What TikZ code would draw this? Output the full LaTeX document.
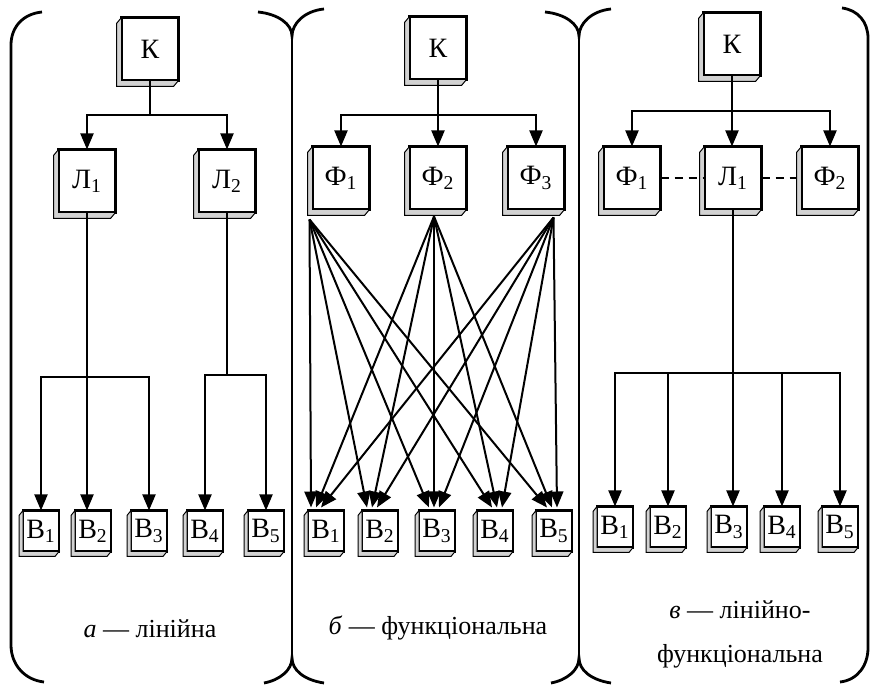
\documentclass[tikz,border=0pt]{standalone}
\usepackage{fontspec}
\setmainfont{Liberation Serif}
\usetikzlibrary{arrows.meta,calc}

% bevelled side of a block
\newcommand{\bev}[2][-5,6]{\filldraw[bevel] (#2.north west) -- ++(#1) -- ($(#2.south west)+(#1)$) -- ($(#2.south east)+(#1)$) -- (#2.south east) -- (#2.south west) -- cycle;}

\begin{document}
\begin{tikzpicture}[
  x=0.5pt,y=-0.5pt,
  font=\fontsize{13}{15}\selectfont,
  blk/.style={draw, line width=1.3pt, fill=white, inner sep=0pt, outer sep=0pt, minimum width=28.5pt, minimum height=31.5pt, font=\fontsize{14}{16}\selectfont},
  sblk/.style={blk, minimum width=18pt, minimum height=20.5pt},
  bevel/.style={draw, fill=gray!35, line width=0.5pt},
  frame/.style={line width=1.4pt},
  ln/.style={line width=1pt},
  arr/.style={ln, -{Triangle[length=8pt,width=6.5pt]}},
  dsh/.style={ln, dash pattern=on 4pt off 3pt},
  lbl/.style={inner sep=1pt}
]
\useasboundingbox (0,0) rectangle (875,689);

% frames
\draw[frame] (42,12) .. controls (22,14) and (11,28) .. (11,45) -- (11,645) .. controls (11,665) and (25,680) .. (44,682);
\draw[frame] (842,8) .. controls (858,10) and (868,22) .. (868,38) -- (868,648) .. controls (868,665) and (858,680) .. (840,682);
\foreach \sx in {292,579} {
  \draw[frame] (\sx-34,12) .. controls (\sx-14,14) and (\sx,24) .. (\sx,36) .. controls (\sx,24) and (\sx+12,11) .. (\sx+32,9);
  \draw[frame] (\sx,36) -- (\sx,658);
  \draw[frame] (\sx-28,683) .. controls (\sx-12,680) and (\sx,670) .. (\sx,658) .. controls (\sx,670) and (\sx+12,680) .. (\sx+32,683);
}

% a - linear
\node[blk] (ka) at (150,49) {К};
\node[blk] (la1) at (87,181) {Л\textsubscript{1}};
\node[blk] (la2) at (227,181) {Л\textsubscript{2}};
\foreach \i/\x in {1/41,2/93,3/149,4/205,5/266}
  \node[sblk] (ba\i) at (\x,531) {В\textsubscript{\i}};

% b - functional
\node[blk] (kb) at (438,48) {К};
\foreach \i/\x in {1/341,2/438,3/536}
  \node[blk] (fb\i) at (\x,178) {Ф\textsubscript{\i}};
\foreach \i/\x in {1/326,2/380,3/437,4/495,5/554}
  \node[sblk] (bb\i) at (\x,531) {В\textsubscript{\i}};

% c - linear-functional
\node[blk] (kc) at (732,44) {К};
\node[blk] (fc1) at (632,178) {Ф\textsubscript{1}};
\node[blk] (lc1) at (733,178) {Л\textsubscript{1}};
\node[blk] (fc2) at (830,178) {Ф\textsubscript{2}};
\foreach \i/\x in {1/615,2/668,3/729,4/782,5/840}
  \node[sblk] (bc\i) at (\x,527) {В\textsubscript{\i}};

\foreach \n in {ka,la1,la2,kb,fb1,fb2,fb3,kc,fc1,lc1,fc2} \bev{\n};
\foreach \n in {ba1,ba2,ba3,ba4,ba5,bb1,bb2,bb3,bb4,bb5,bc1,bc2,bc3,bc4,bc5} \bev[-4,5]{\n};

% connectors a
\coordinate (busa) at (ka |- 0,115);
\draw[ln] (ka.south) -- (busa);
\draw[arr] (busa) -| (la1.north);
\draw[arr] (busa) -| (la2.north);
\coordinate (busa1) at (la1 |- 0,377);
\draw[arr] (la1.south) -- (la1.south |- ba2.north);
\draw[arr] (busa1) -| (ba1.north);
\draw[arr] (busa1) -| (ba3.north);
\coordinate (busa2) at (la2 |- 0,375);
\draw[ln] (la2.south) -- (busa2);
\draw[arr] (busa2) -| (ba4.north);
\draw[arr] (busa2) -| (ba5.north);

% connectors b
\coordinate (busb) at (kb |- 0,115);
\draw[ln] (kb.south) -- (busb);
\foreach \i in {1,2,3} \draw[arr] (busb) -| (fb\i.north);
\coordinate (ob1) at ($(fb1.south west)+(-3,10)$);
\coordinate (ob2) at ($(fb2.south)+(-4,7)$);
\coordinate (ob3) at ($(fb3.south east)+(-11,8)$);
\foreach \i/\dx in {1/-10,2/-8,3/-3,4/2,5/-2}
  \foreach \j/\ex in {1/-5,2/0,3/5}
    \draw[arr] (ob\j) -- ($(bb\i.north)+(\dx+\ex,-3)$);

% connectors c
\coordinate (busc) at (kc |- 0,111);
\draw[ln] (kc.south) -- (busc);
\draw[arr] (busc) -| (fc1.north);
\draw[arr] (busc) -| (fc2.north);
\draw[arr] (kc.south) -- (kc.south |- lc1.north);
\draw[dsh] (fc1.east) -- (lc1.west);
\draw[dsh] (lc1.east) -- ($(fc2.west)+(-5,0)$);
\coordinate (busc1) at (lc1 |- 0,373);
\draw[arr] (lc1.south) -- (lc1.south |- bc3.north);
\foreach \i in {1,2,4,5} \draw[arr] (busc1) -| (bc\i.north);

% captions
\node[lbl] (ta) at (150,629) {\textit{а} — лінійна};
\node[lbl] (tb) at (438,628) {\textit{б} — функціональна};
\node[lbl, align=center, font=\fontsize{13}{22}\selectfont] (tc) at (740,634) {\textit{в} — лінійно-\\функціональна};
\end{tikzpicture}
\end{document}
